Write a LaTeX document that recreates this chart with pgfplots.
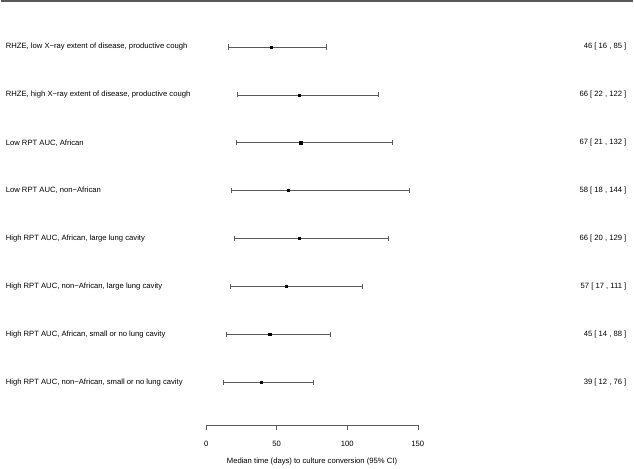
\documentclass[border=0pt]{standalone}
\usepackage{fontspec}
\setmainfont{Liberation Sans}
\usepackage{pgfplots}
\usepackage{pgfplotstable}
\pgfplotsset{compat=1.18}
\definecolor{barcol}{HTML}{5A5A5A}

\pgfplotstableread{
est lo hi row
46 16 85 -1
66 22 122 -2
67 21 132 -3
58 18 144 -4
66 20 129 -5
57 17 111 -6
45 14 88 -7
39 12 76 -8
}\forest

\begin{document}
\begin{tikzpicture}[font=\fontsize{7.7}{9.2}\selectfont]
\begin{axis}[
    scale only axis,
    width=212bp, height=426bp,
    xmin=0, xmax=150,
    ymin=-8.896, ymax=-0.0208,
    clip=false,
    axis x line=bottom,
    axis y line=none,
    x axis line style={-, color=barcol, line width=0.6bp},
    xtick={0,50,100,150},
    tick align=outside,
    major tick length=5bp,
    x tick style={color=barcol, line width=0.6bp},
    x tick label style={yshift=-7bp},
    /pgf/number format/assume math mode=true,
    xlabel={Median time (days) to culture conversion (95\% CI)},
    xlabel style={yshift=-5bp},
]
\addplot[only marks, mark=square*, mark size=1.05bp, color=black,
    error bars/.cd, x dir=both, x explicit, error mark=|,
    error bar style={color=barcol, line width=0.6bp},
    error mark options={color=barcol, mark size=2.6bp, line width=0.6bp}]
  table[x=est, y=row, x error plus expr=\thisrow{hi}-\thisrow{est}, x error minus expr=\thisrow{est}-\thisrow{lo}] {\forest};

\draw[gray!70!black, line width=1.2bp] (axis cs:-145.76,-0.0417) -- (axis cs:302.84,-0.0417);
\path (axis cs:-145.76,-0.0208) rectangle (axis cs:302.84,-9.6875);

\begin{scope}[every node/.style={inner sep=0pt}]
\node[anchor=west] at (axis cs:-142.2,-1) {RHZE, low X−ray extent of disease, productive cough};
\node[anchor=west] at (axis cs:-142.2,-2) {RHZE, high X−ray extent of disease, productive cough};
\node[anchor=west] at (axis cs:-142.2,-3) {Low RPT AUC, African};
\node[anchor=west] at (axis cs:-142.2,-4) {Low RPT AUC, non−African};
\node[anchor=west] at (axis cs:-142.2,-5) {High RPT AUC, African, large lung cavity};
\node[anchor=west] at (axis cs:-142.2,-6) {High RPT AUC, non−African, large lung cavity};
\node[anchor=west] at (axis cs:-142.2,-7) {High RPT AUC, African, small or no lung cavity};
\node[anchor=west] at (axis cs:-142.2,-8) {High RPT AUC, non−African, small or no lung cavity};

\node[anchor=east] at (axis cs:298.0,-1) {46 [ 16 , 85 ]};
\node[anchor=east] at (axis cs:298.0,-2) {66 [ 22 , 122 ]};
\node[anchor=east] at (axis cs:298.0,-3) {67 [ 21 , 132 ]};
\node[anchor=east] at (axis cs:298.0,-4) {58 [ 18 , 144 ]};
\node[anchor=east] at (axis cs:298.0,-5) {66 [ 20 , 129 ]};
\node[anchor=east] at (axis cs:298.0,-6) {57 [ 17 , 111 ]};
\node[anchor=east] at (axis cs:298.0,-7) {45 [ 14 , 88 ]};
\node[anchor=east] at (axis cs:298.0,-8) {39 [ 12 , 76 ]};
\end{scope}
\end{axis}
\end{tikzpicture}
\end{document}
